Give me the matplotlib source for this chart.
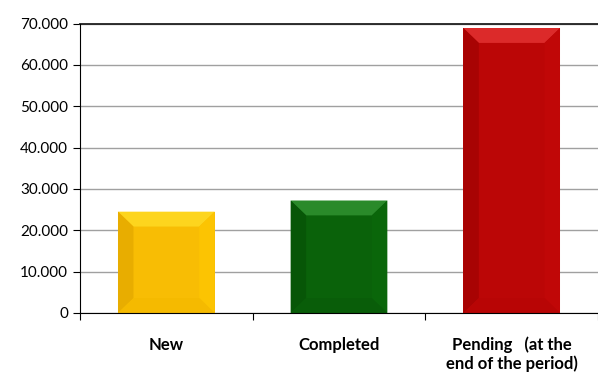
import matplotlib.pyplot as plt
from matplotlib.patches import Polygon
from matplotlib.ticker import FuncFormatter

categories = ['New', 'Completed', 'Pending   (at the\nend of the period)']
values = [24500, 27200, 68900]
base_colors = ['#f8bd04', '#0a620a', '#bb0606']
top_colors = ['#fdd51e', '#2a8a2a', '#dc2a2a']
left_colors = ['#e8ad00', '#075607', '#a80303']
right_colors = ['#fcc402', '#0a660a', '#c00707']
bottom_colors = ['#f5ba00', '#095d09', '#b80505']

plt.rcParams['font.family'] = ['Lato', 'DejaVu Sans']

fig = plt.figure(figsize=(5.98, 3.76), dpi=100)
ax = fig.add_axes([80 / 598, (376 - 313) / 376, 518 / 598, (313 - 23.5) / 376])

x = list(range(len(categories)))
bars = ax.bar(x, values, width=0.56, color=base_colors, zorder=3,
              edgecolor='none')

# bevel look: light top, dark left, slight bottom/right shading
for b, tc, lc, rc, bc in zip(bars, top_colors, left_colors, right_colors, bottom_colors):
    x0, w, h = b.get_x(), b.get_width(), b.get_height()
    x1 = x0 + w
    dx = w * 0.16
    dy = 3600
    ax.add_patch(Polygon([(x0, h), (x1, h), (x1 - dx, h - dy), (x0 + dx, h - dy)],
                         closed=True, color=tc, zorder=4, lw=0))
    ax.add_patch(Polygon([(x0, 0), (x0, h), (x0 + dx, h - dy), (x0 + dx, dy)],
                         closed=True, color=lc, zorder=4, lw=0))
    ax.add_patch(Polygon([(x1, 0), (x1, h), (x1 - dx, h - dy), (x1 - dx, dy)],
                         closed=True, color=rc, zorder=4, lw=0))
    ax.add_patch(Polygon([(x0, 0), (x1, 0), (x1 - dx, dy), (x0 + dx, dy)],
                         closed=True, color=bc, zorder=4, lw=0))

ax.set_ylim(0, 70000)
ax.set_xlim(-0.5, len(categories) - 0.5)
ax.set_yticks(range(0, 70001, 10000))
ax.yaxis.set_major_formatter(FuncFormatter(lambda v, p: '0' if v == 0 else f'{int(v):,}'.replace(',', '.')))
ax.set_axisbelow(True)
ax.grid(axis='y', color='#a0a0a0', lw=1)
ax.axhline(70000, color='#202020', lw=1.3, zorder=5, clip_on=False)

ax.set_xticks([i + 0.5 for i in range(-1, len(categories))])
ax.set_xticklabels([])
ax.set_xticks(x, minor=True)
ax.set_xticklabels(categories, minor=True, fontsize=12, fontweight='bold')
ax.tick_params(axis='x', which='minor', length=0, pad=17)
ax.tick_params(axis='x', which='major', direction='out', length=5, color='black')
ax.tick_params(axis='y', direction='out', length=5, labelsize=11, color='black')

for s in ['top', 'right']:
    ax.spines[s].set_visible(False)
ax.spines['left'].set_color('black')
ax.spines['bottom'].set_color('black')
ax.spines['left'].set_zorder(6)
ax.spines['bottom'].set_zorder(6)

fig.savefig('out.png', dpi=100)
